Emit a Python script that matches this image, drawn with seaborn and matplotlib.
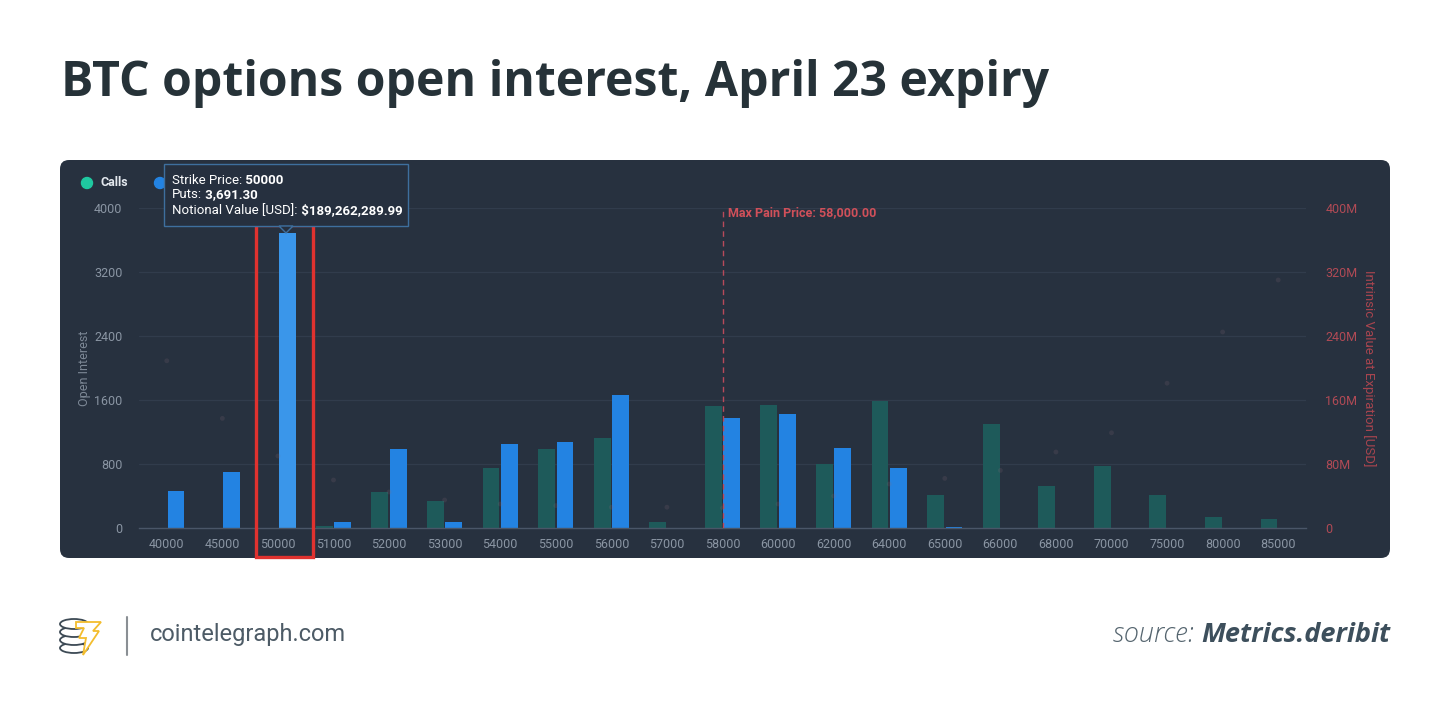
import numpy as np
import pandas as pd
import matplotlib
matplotlib.use("Agg")
import matplotlib.pyplot as plt
import matplotlib.patches as mpatches
from matplotlib.transforms import IdentityTransform
import seaborn as sns

# data
strikes = ["40000", "45000", "50000", "51000", "52000", "53000", "54000", "55000",
           "56000", "57000", "58000", "60000", "62000", "64000", "65000", "66000",
           "68000", "70000", "75000", "80000", "85000"]
calls = [0, 0, 0, 30, 445, 340, 745, 990, 1120, 75, 1520, 1535, 805, 1585,
         410, 1305, 525, 770, 410, 135, 115]
puts = [460, 700, 3691.3, 70, 990, 80, 1045, 1080, 1660, 0, 1380, 1420, 1000, 745,
        15, 0, 0, 0, 0, 0, 0]
intrinsic_m = [209, 137, 90, 60, 45, 35, 30, 28, 26, 26, 25, 30, 40, 55, 62, 72,
               95, 119, 181, 245, 310]
left_ticks = [0, 800, 1600, 2400, 3200, 4000]
right_ticks = [0, 80, 160, 240, 320, 400]
right_labels = ["0", "80M", "160M", "240M", "320M", "400M"]

W, H = 1450, 716
BG = "#27313f"
CALLS = "#1e5a5a"
PUTS = "#2383e2"

df = pd.DataFrame({
    "strike": strikes * 2,
    "type": ["Calls"] * len(strikes) + ["Puts"] * len(strikes),
    "oi": calls + puts,
})

sns.set_style("white")
plt.rcParams["font.family"] = ["Roboto", "DejaVu Sans"]

fig = plt.figure(figsize=(W / 100, H / 100), dpi=100)
fig.patch.set_facecolor("white")


def fx(x):
    return x / W


def fy(y):
    return 1 - y / H


# dark panel
panel = mpatches.FancyBboxPatch((60, H - 558), 1330, 398,
                                boxstyle="round,pad=0,rounding_size=9",
                                transform=IdentityTransform(), facecolor=BG,
                                edgecolor="none", zorder=-1)
fig.patches.append(panel)

ax = fig.add_axes([fx(139), fy(528), (1306 - 139) / W, 320 / H])
ax.set_facecolor("none")
sns.barplot(data=df, x="strike", y="oi", hue="type", order=strikes,
            hue_order=["Calls", "Puts"], palette={"Calls": CALLS, "Puts": PUTS},
            width=0.66, gap=0.08, saturation=1, legend=False, ax=ax, zorder=2,
            linewidth=0, edgecolor="none")

# highlight the hovered bar
for p in ax.patches:
    cx = p.get_x() + p.get_width() / 2
    if abs(cx - (2 + 0.165)) < 0.05:
        p.set_facecolor("#3a96ea")

ax.set_xlim(-0.5, len(strikes) - 0.5)
ax.set_ylim(0, 4000)
ax.set_yticks(left_ticks)
ax.set_yticklabels([str(t) for t in left_ticks])
for t in left_ticks[1:]:
    ax.axhline(t, color="#313c4c", lw=0.9, zorder=0)
for s in ["top", "left", "right"]:
    ax.spines[s].set_visible(False)
ax.spines["bottom"].set_color("#4a5668")
ax.spines["bottom"].set_linewidth(1)
ax.tick_params(axis="x", length=0, pad=7, labelsize=9, labelcolor="#8a95a3")
ax.tick_params(axis="y", length=0, pad=12, labelsize=9, labelcolor="#8a95a3")
ax.set_xlabel("")
ax.set_ylabel("Open Interest", color="#7d8896", fontsize=9, labelpad=2)

# intrinsic value markers on the right axis
ax2 = ax.twinx()
ax2.scatter(np.arange(len(strikes)), intrinsic_m, s=12, color="#8a6a78",
            alpha=0.18, edgecolors="none", zorder=1)
ax2.set_ylim(0, 400)
ax2.set_yticks(right_ticks)
ax2.set_yticklabels(right_labels)
for s in ["top", "left", "right", "bottom"]:
    ax2.spines[s].set_visible(False)
ax2.tick_params(axis="y", length=0, pad=14, labelsize=9, labelcolor="#b04a55")
ax2.set_ylabel("Intrinsic Value at Expiration [USD]", color="#a8454f",
               fontsize=9.5, rotation=270, labelpad=13)

# max pain line
mp = strikes.index("58000")
ax.axvline(mp, color="#b84a5a", lw=1, ls=(0, (4, 3)), zorder=3)
ax.text(mp + 0.09, 3940, "Max Pain Price: 58,000.00", color="#d0505a",
        fontsize=9, weight="bold", va="center", ha="left")

# red highlight box
box = mpatches.Rectangle((fx(256), fy(557)), (313 - 256) / W, (557 - 225) / H,
                         transform=fig.transFigure, fill=False,
                         edgecolor="#e0322f", lw=2.4, zorder=5)
fig.patches.append(box)

# legend
fig.patches.append(mpatches.Circle((87, H - 183), 5.5, transform=IdentityTransform(),
                                   color="#1fc8a0", zorder=3))
fig.text(fx(101), fy(183), "Calls", color="#e3e8ee", fontsize=9, weight="bold",
         va="center")
fig.patches.append(mpatches.Circle((160, H - 183), 5.5, transform=IdentityTransform(),
                                   color=PUTS, zorder=3))

# tooltip
tip = mpatches.Rectangle((fx(164), fy(226)), (408 - 164) / W, 62 / H,
                         transform=fig.transFigure, facecolor="#26303f",
                         edgecolor="#3e6f9e", lw=1, zorder=6)
fig.patches.append(tip)
tri = mpatches.Polygon([(fx(279), fy(226)), (fx(293), fy(226)), (fx(286), fy(233))],
                       closed=True, transform=fig.transFigure, facecolor="#26303f",
                       edgecolor="#3e6f9e", lw=1, zorder=6)
fig.patches.append(tri)

renderer = fig.canvas.get_renderer()


def rich(x, y, parts):
    for s, w in parts:
        t = fig.text(fx(x), fy(y), s, color="white", fontsize=9.5, weight=w,
                     va="center", ha="left", zorder=7)
        x += t.get_window_extent(renderer=renderer).width


rich(172, 180, [("Strike Price:", "normal"), (" 50000", "bold")])
rich(172, 195, [("Puts:", "normal"), (" 3,691.30", "bold")])
rich(172, 211, [("Notional Value [USD]:", "normal"), (" $189,262,289.99", "bold")])

# title
fig.text(fx(61), fy(83), "BTC options open interest, April 23 expiry",
         family=["Open Sans", "DejaVu Sans"], weight="bold", fontsize=34.7,
         color="#263238", va="center", ha="left")

# footer: simple logo
for i, yy in enumerate([648, 640, 632, 624]):
    fig.patches.append(mpatches.Ellipse((74, H - yy), 28, 10, transform=IdentityTransform(),
                                        facecolor="white", edgecolor="#3d4a55", lw=1.3,
                                        zorder=3 + i))
bolt = [(76, 622), (101, 622), (93, 631), (99, 631), (83, 655), (86, 638), (79, 638),
        (84, 628), (76, 628)]
fig.patches.append(mpatches.Polygon([(x, H - y) for x, y in bolt], closed=True,
                                    transform=IdentityTransform(), facecolor="white",
                                    edgecolor="#f3bd2e", lw=1.3, zorder=8))
fig.lines.append(plt.Line2D([fx(127), fx(127)], [fy(617), fy(655)],
                            transform=fig.transFigure, color="#8a8f94", lw=1.5))
fig.text(fx(150), fy(635), "cointelegraph.com", family=["Roboto", "DejaVu Sans"],
         fontsize=17, color="#4d5b66", va="center", ha="left")

src = fig.text(fx(1390), fy(635), "Metrics.deribit", family=["Open Sans", "DejaVu Sans"],
               fontsize=19.5, weight="bold", style="italic", color="#3d4f5c",
               va="center", ha="right")
sw = src.get_window_extent(renderer=renderer).width
fig.text(fx(1390 - sw), fy(635), "source: ", family=["Open Sans", "DejaVu Sans"],
         fontsize=19.5, weight="light", style="italic", color="#55656f",
         va="center", ha="right")

fig.savefig("out.png", dpi=100, facecolor="white")
